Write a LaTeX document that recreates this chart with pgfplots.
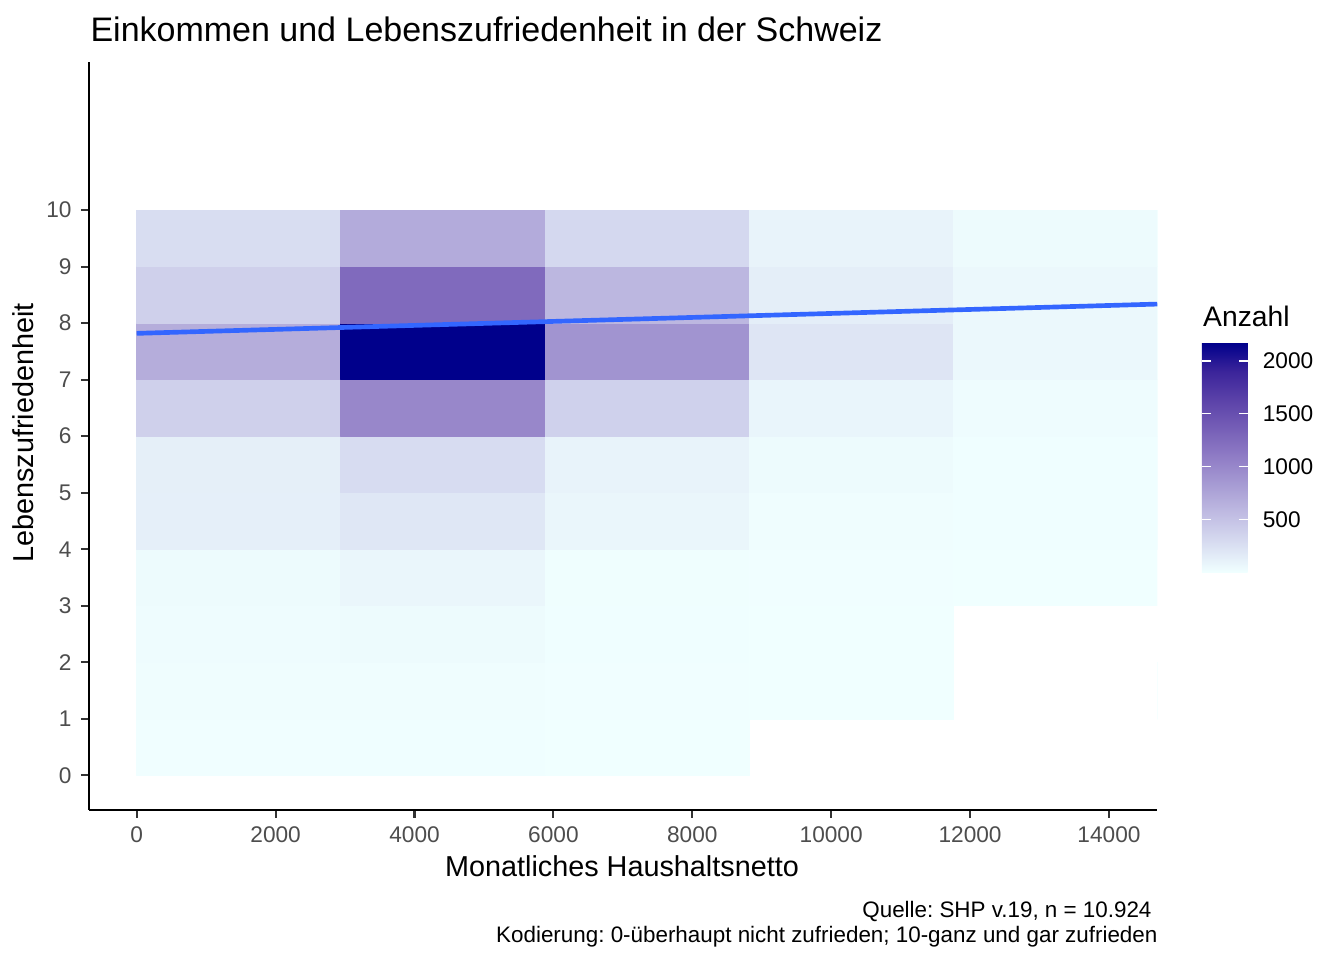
\documentclass[border=0pt]{standalone}
\usepackage{fontspec}
\setmainfont{Liberation Sans}
\usepackage{pgfplots}
\pgfplotsset{compat=1.18}
\usepgfplotslibrary{patchplots}
\frenchspacing

\definecolor{tickgray}{RGB}{51,51,51}
\definecolor{labgray}{RGB}{77,77,77}
\definecolor{smoothblue}{RGB}{51,102,255}

\pgfplotsset{/pgf/number format/assume math mode=true}

% counts per bin: each cell as 4 corners (x y count)
\pgfplotstableread[row sep=\\]{
x y c\\
0 0 5\\ 2938 0 5\\ 2938 1 5\\ 0 1 5\\
0 1 15\\ 2938 1 15\\ 2938 2 15\\ 0 2 15\\
0 2 25\\ 2938 2 25\\ 2938 3 25\\ 0 3 25\\
0 3 33\\ 2938 3 33\\ 2938 4 33\\ 0 4 33\\
0 4 125\\ 2938 4 125\\ 2938 5 125\\ 0 5 125\\
0 5 128\\ 2938 5 128\\ 2938 6 128\\ 0 6 128\\
0 6 380\\ 2938 6 380\\ 2938 7 380\\ 0 7 380\\
0 7 680\\ 2938 7 680\\ 2938 8 680\\ 0 8 680\\
0 8 383\\ 2938 8 383\\ 2938 9 383\\ 0 9 383\\
0 9 273\\ 2938 9 273\\ 2938 10 273\\ 0 10 273\\
2938 0 8\\ 5876 0 8\\ 5876 1 8\\ 2938 1 8\\
2938 1 15\\ 5876 1 15\\ 5876 2 15\\ 2938 2 15\\
2938 2 33\\ 5876 2 33\\ 5876 3 33\\ 2938 3 33\\
2938 3 72\\ 5876 3 72\\ 5876 4 72\\ 2938 4 72\\
2938 4 192\\ 5876 4 192\\ 5876 5 192\\ 2938 5 192\\
2938 5 280\\ 5876 5 280\\ 5876 6 280\\ 2938 6 280\\
2938 6 1002\\ 5876 6 1002\\ 5876 7 1002\\ 2938 7 1002\\
2938 7 2173\\ 5876 7 2173\\ 5876 8 2173\\ 2938 8 2173\\
2938 8 1259\\ 5876 8 1259\\ 5876 9 1259\\ 2938 9 1259\\
2938 9 697\\ 5876 9 697\\ 5876 10 697\\ 2938 10 697\\
5876 0 4\\ 8814 0 4\\ 8814 1 4\\ 5876 1 4\\
5876 1 6\\ 8814 1 6\\ 8814 2 6\\ 5876 2 6\\
5876 2 10\\ 8814 2 10\\ 8814 3 10\\ 5876 3 10\\
5876 3 12\\ 8814 3 12\\ 8814 4 12\\ 5876 4 12\\
5876 4 72\\ 8814 4 72\\ 8814 5 72\\ 5876 5 72\\
5876 5 95\\ 8814 5 95\\ 8814 6 95\\ 5876 6 95\\
5876 6 375\\ 8814 6 375\\ 8814 7 375\\ 5876 7 375\\
5876 7 892\\ 8814 7 892\\ 8814 8 892\\ 5876 8 892\\
5876 8 595\\ 8814 8 595\\ 8814 9 595\\ 5876 9 595\\
5876 9 315\\ 8814 9 315\\ 8814 10 315\\ 5876 10 315\\
8814 1 3\\ 11752 1 3\\ 11752 2 3\\ 8814 2 3\\
8814 2 4\\ 11752 2 4\\ 11752 3 4\\ 8814 3 4\\
8814 3 6\\ 11752 3 6\\ 11752 4 6\\ 8814 4 6\\
8814 4 16\\ 11752 4 16\\ 11752 5 16\\ 8814 5 16\\
8814 5 30\\ 11752 5 30\\ 11752 6 30\\ 8814 6 30\\
8814 6 80\\ 11752 6 80\\ 11752 7 80\\ 8814 7 80\\
8814 7 210\\ 11752 7 210\\ 11752 8 210\\ 8814 8 210\\
8814 8 136\\ 11752 8 136\\ 11752 9 136\\ 8814 9 136\\
8814 9 96\\ 11752 9 96\\ 11752 10 96\\ 8814 10 96\\
11752 3 3\\ 14690 3 3\\ 14690 4 3\\ 11752 4 3\\
11752 4 8\\ 14690 4 8\\ 14690 5 8\\ 11752 5 8\\
11752 5 10\\ 14690 5 10\\ 14690 6 10\\ 11752 6 10\\
11752 6 25\\ 14690 6 25\\ 14690 7 25\\ 11752 7 25\\
11752 7 56\\ 14690 7 56\\ 14690 8 56\\ 11752 8 56\\
11752 8 56\\ 14690 8 56\\ 14690 9 56\\ 11752 9 56\\
11752 9 30\\ 14690 9 30\\ 14690 10 30\\ 11752 10 30\\
14690 1 1\\ 17628 1 1\\ 17628 2 1\\ 14690 2 1\\
14690 4 2\\ 17628 4 2\\ 17628 10 2\\ 14690 10 2\\
}\bins

\begin{document}
\begin{tikzpicture}
\path[use as bounding box] (0,0) rectangle (504pt,360pt);
\begin{axis}[
  at={(33.375pt,56.36pt)}, anchor=south west,
  scale only axis, width=400.6pt, height=280.4pt,
  xmin=-687, xmax=14695, ymin=-0.608, ymax=12.62,
  axis lines*=left,
  axis line style={line width=0.8pt, black},
  xtick={0,2000,...,14000}, ytick={0,1,...,10},
  tick align=outside, major tick length=3pt,
  tick style={color=tickgray, line width=0.8pt},
  ticklabel style={font=\fontsize{8.5}{10}\selectfont, color=labgray},
  xticklabel style={/pgf/number format/1000 sep={}},
  scaled x ticks=false,
  colormap={azdb}{rgb255=(240,255,255) rgb255=(216,221,241) rgb255=(193,189,227)
    rgb255=(168,157,212) rgb255=(144,125,198) rgb255=(118,95,183)
    rgb255=(91,66,169) rgb255=(59,36,154) rgb255=(0,0,139)},
  point meta min=1, point meta max=2173,
  colorbar,
  colorbar shift/.style={},
  colorbar/width=17.14pt,
  colorbar style={
    at={(parent axis.south east)},
    anchor=south west,
    xshift=16.76pt, yshift=89.14pt,
    scale only axis, width=17.14pt, height=86pt,
    ytick={500,1000,1500,2000},
    axis line style={draw=none},
    ytick pos=both, yticklabel pos=right,
    tick align=inside, major tick length=3.43pt,
    tick style={white, line width=0.5pt},
    yticklabel style={font=\fontsize{8.5}{10}\selectfont, color=black,
      anchor=west, inner sep=0pt, xshift=5.5pt,
      /pgf/number format/1000 sep={}},
  },
]
\addplot[patch, patch type=rectangle, shader=faceted, faceted color=mapped color,
  line width=0.2pt, point meta=\thisrow{c}] table[x=x, y=y] {\bins};
\addplot[color=smoothblue, line width=1.75pt] coordinates {(0,7.819) (14695,8.337)};
\end{axis}
\begin{scope}[every node/.style={inner sep=0pt}]
\node[anchor=base west, font=\fontsize{12.75}{15}\selectfont] at (33.75pt,344.6pt)
  {Einkommen und Lebenszufriedenheit in der Schweiz};
\node[anchor=base, font=\fontsize{10.8}{13}\selectfont] at (233.25pt,31.5pt)
  {Monatliches Haushaltsnetto};
\node[anchor=base, rotate=90, font=\fontsize{10.8}{13}\selectfont] at (12.5pt,197.6pt)
  {Lebenszufriedenheit};
\node[anchor=base west, font=\fontsize{10.6}{13}\selectfont] at (451.0pt,237.75pt)
  {Anzahl};
\node[anchor=base east, font=\fontsize{8.4}{10}\selectfont] at (432.0pt,16.1pt)
  {Quelle: SHP v.19, n = 10.924};
\node[anchor=base east, font=\fontsize{8.4}{10}\selectfont] at (434.25pt,6.75pt)
  {Kodierung: 0-überhaupt nicht zufrieden; 10-ganz und gar zufrieden};
\end{scope}
\end{tikzpicture}
\end{document}
